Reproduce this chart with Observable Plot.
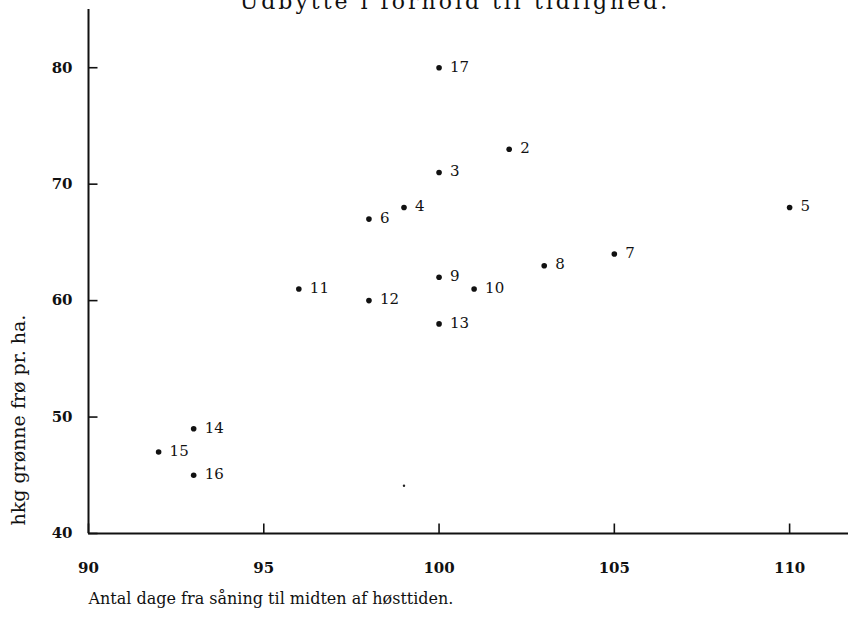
<!DOCTYPE html>
<html>
<head>
<meta charset="utf-8">
<script src="https://cdn.jsdelivr.net/npm/d3@7"></script>
<script src="https://cdn.jsdelivr.net/npm/@observablehq/plot@0.6"></script>
<style>
  html, body { margin: 0; padding: 0; background: #fff; overflow: hidden; }
  #wrap { position: relative; width: 849px; height: 618px; }
  #title { position: absolute; top: -11px; left: 0; width: 910px; text-align: center;
           font-family: "DejaVu Serif", serif; font-size: 22px; letter-spacing: 3px; color: #111; }
</style>
</head>
<body>
<div id="wrap">
  <div id="chart"></div>
  <div id="title">Udbytte i forhold til tidlighed.</div>
</div>
<script>
// Data
const ids    = [17, 2, 3, 4, 5, 6, 7, 8, 9, 10, 11, 12, 13, 14, 15, 16];
const days   = [100, 102, 100, 99, 110, 98, 105, 103, 100, 101, 96, 98, 100, 93, 92, 93];
const yields = [80, 73, 71, 68, 68, 67, 64, 63, 62, 61, 61, 60, 58, 49, 47, 45];
// an unlabeled stray dot in the scan
const strayDays = [99];
const strayYields = [44.1];

const xTicks = [90, 95, 100, 105, 110];
const yTicks = [40, 50, 60, 70, 80];
const xTitle = "Antal dage fra såning til midten af høsttiden.";
const yTitle = "hkg grønne frø pr. ha.";

const points = ids.map((id, i) => ({id, x: days[i], y: yields[i]}));
const strays = strayDays.map((d, i) => ({x: d, y: strayYields[i]}));

const serif = "DejaVu Serif, serif";

const xDomain = [90, 111.68];
const yDomain = [40, 85];
// inward tick lengths, expressed as fractions of the frame (≈10px and ≈9px)
const xTickLen = (yDomain[1] - yDomain[0]) * 10 / 524;
const yTickLen = (xDomain[1] - xDomain[0]) * 9 / 760;

const xTickSegs = xTicks.map(v => ({x: v, y1: yDomain[0], y2: yDomain[0] + xTickLen}));
const yTickSegs = yTicks.map(v => ({y: v, x1: xDomain[0], x2: xDomain[0] + yTickLen}));

const chart = Plot.plot({
  width: 849,
  height: 618,
  marginLeft: 88,
  marginRight: 1,
  marginTop: 9,
  marginBottom: 85,
  style: {background: "#fff", color: "#111"},
  x: {domain: xDomain},
  y: {domain: yDomain},
  marks: [
    Plot.axisX({ticks: xTicks, tickSize: 0, tickPadding: 29,
      fontFamily: serif, fontSize: 15, fontWeight: "bold", label: null, tickFormat: d => String(d)}),
    Plot.axisY({ticks: yTicks, tickSize: 0, tickPadding: 16,
      fontFamily: serif, fontSize: 15, fontWeight: "bold", label: null, tickFormat: d => String(d)}),
    Plot.ruleY([40], {strokeWidth: 2, stroke: "#111"}),
    Plot.ruleX([90], {y1: 40, y2: 85, strokeWidth: 2, stroke: "#111"}),
    // inward tick marks
    Plot.link(xTickSegs, {x1: "x", x2: "x", y1: "y1", y2: "y2", strokeWidth: 1.6, stroke: "#111"}),
    Plot.link(yTickSegs, {y1: "y", y2: "y", x1: "x1", x2: "x2", strokeWidth: 1.6, stroke: "#111"}),
    Plot.dot(points, {x: "x", y: "y", r: 2.8, fill: "#111", stroke: null}),
    Plot.dot(strays, {x: "x", y: "y", r: 1.2, fill: "#222", stroke: null}),
    Plot.text(points, {x: "x", y: "y", text: d => String(d.id), dx: 11, dy: -1,
      textAnchor: "start", fontFamily: serif, fontSize: 15, fill: "#111"}),
    Plot.text([xTitle], {frameAnchor: "bottom-left", dx: 0, dy: 70, textAnchor: "start",
      fontFamily: serif, fontSize: 16, fill: "#111"}),
    Plot.text([yTitle], {frameAnchor: "left", rotate: -90, dx: -70, dy: 254,
      fontFamily: serif, fontSize: 19, fill: "#111"})
  ]
});
document.getElementById("chart").appendChild(chart);
</script>
</body>
</html>
